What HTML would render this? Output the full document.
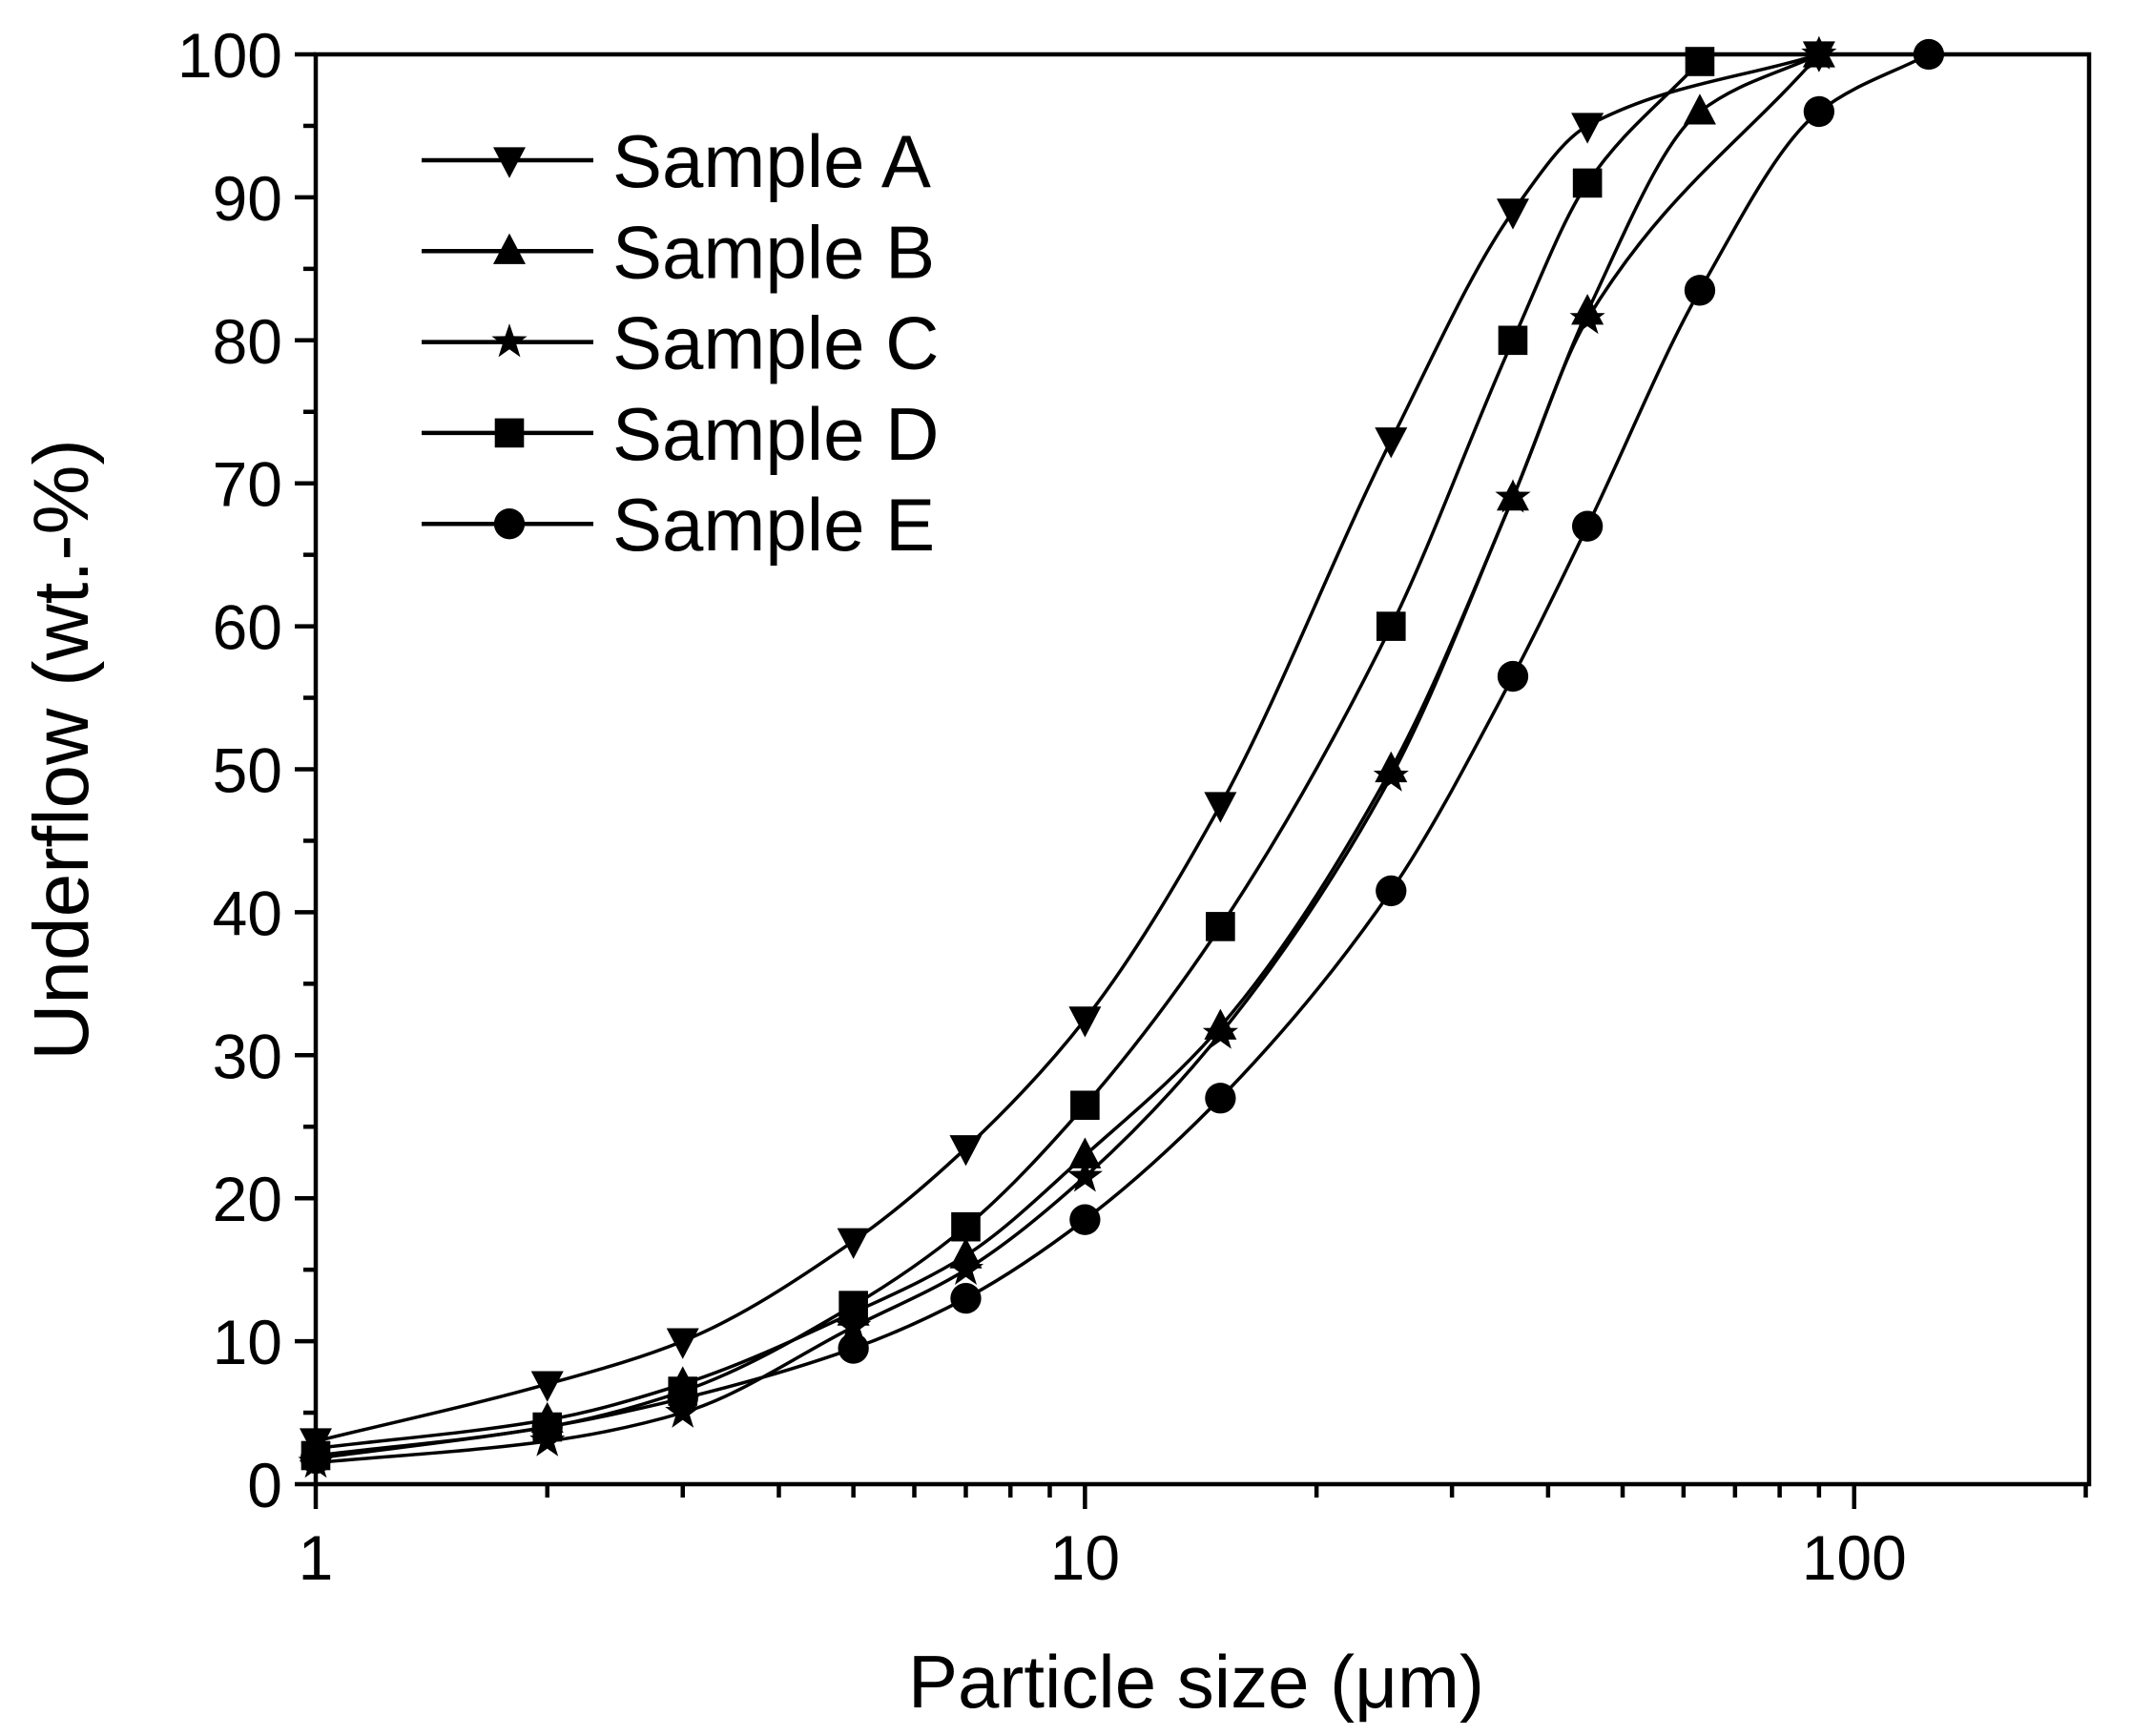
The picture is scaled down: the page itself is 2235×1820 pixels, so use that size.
<!DOCTYPE html>
<html><head><meta charset="utf-8"><style>
html,body{margin:0;padding:0;background:#fff;}
svg{display:block;font-family:"Liberation Sans",Arial,sans-serif;}
</style></head><body>
<svg id="chart" width="2235" height="1820" viewBox="0 0 2235 1820">
<g id="plot"></g>
<text x="1254" y="1790" font-size="78" text-anchor="middle">Particle size (μm)</text>
<text transform="translate(92,786) rotate(-90)" font-size="82" text-anchor="middle">Underflow (wt.-%)</text>
</svg>
<script>
const xValues = [1, 2, 3, 5, 7, 10, 15, 25, 36, 45, 63, 90, 125];
const seriesNames = ["Sample A", "Sample B", "Sample C", "Sample D", "Sample E"];
const sampleA = [3, 7, 10, 17, 23.5, 32.5, 47.5, 73, 89, 95, null, 100, null];
const sampleB = [2.5, 4.5, 7, 12, 16, 23, 32, 50, 69, 82, 96, 100, null];
const sampleC = [1.5, 3, 5, 11, 15, 21.5, 31.5, 49.5, 69, 81.5, null, 100, null];
const sampleD = [2, 4, 6.5, 12.5, 18, 26.5, 39, 60, 80, 91, 99.5, null, null];
const sampleE = [1.8, 4, 6, 9.5, 13, 18.5, 27, 41.5, 56.5, 67, 83.5, 96, 100];
const yTicks = [0, 10, 20, 30, 40, 50, 60, 70, 80, 90, 100];
const xTickLabels = [1, 10, 100];
const markers = ["tri-down", "tri-up", "star", "square", "circle"];

const NS = "http://www.w3.org/2000/svg";
const L = 331, R = 2190, T = 57, B = 1556;
const xMin = 1, xMax = 202;
function xs(v){ return L + (Math.log10(v) - Math.log10(xMin)) / (Math.log10(xMax) - Math.log10(xMin)) * (R - L); }
function ys(v){ return B - v / 100 * (B - T); }
const plot = document.getElementById('plot');
function mk(tag, attrs, parent){ const e = document.createElementNS(NS, tag); for (const k in attrs) e.setAttribute(k, attrs[k]); (parent || plot).appendChild(e); return e; }

function marker(type, x, y, g){
  const s = 17;
  let e;
  if (type === "tri-down") e = mk('polygon', {points: `${x-s},${y-s*0.8} ${x+s},${y-s*0.8} ${x},${y+s*1.1}`}, g);
  else if (type === "tri-up") e = mk('polygon', {points: `${x-s},${y+s*0.8} ${x+s},${y+s*0.8} ${x},${y-s*1.1}`}, g);
  else if (type === "square") e = mk('rect', {x: x-s*0.9, y: y-s*0.9, width: s*1.8, height: s*1.8}, g);
  else if (type === "circle") e = mk('circle', {cx: x, cy: y, r: s*0.95}, g);
  else {
    let p = [];
    for (let i = 0; i < 10; i++){ const r = i % 2 ? s*0.45 : s*1.15; const a = -Math.PI/2 + i*Math.PI/5; p.push((x + r*Math.cos(a)).toFixed(1) + ',' + (y + r*Math.sin(a)).toFixed(1)); }
    e = mk('polygon', {points: p.join(' ')}, g);
  }
  e.setAttribute('fill', '#000');
  
  
  return e;
}

// monotone cubic (Fritsch-Carlson) path in pixel space
function smoothPath(pts){
  const n = pts.length;
  const dx = [], m = [], t = [];
  for (let i = 0; i < n - 1; i++){ dx[i] = pts[i+1][0] - pts[i][0]; m[i] = (pts[i+1][1] - pts[i][1]) / dx[i]; }
  t[0] = m[0]; t[n-1] = m[n-2];
  for (let i = 1; i < n - 1; i++){
    if (m[i-1] * m[i] <= 0) t[i] = 0;
    else { const w1 = 2*dx[i] + dx[i-1], w2 = dx[i] + 2*dx[i-1]; t[i] = (w1 + w2) / (w1/m[i-1] + w2/m[i]); }
  }
  let d = `M${pts[0][0].toFixed(1)},${pts[0][1].toFixed(1)}`;
  for (let i = 0; i < n - 1; i++){
    const h = dx[i] / 3;
    d += ` C${(pts[i][0]+h).toFixed(1)},${(pts[i][1]+t[i]*h).toFixed(1)} ${(pts[i+1][0]-h).toFixed(1)},${(pts[i+1][1]-t[i+1]*h).toFixed(1)} ${pts[i+1][0].toFixed(1)},${pts[i+1][1].toFixed(1)}`;
  }
  return d;
}

const all = [sampleA, sampleB, sampleC, sampleD, sampleE];
all.forEach((vals, si) => {
  const g = mk('g', {});
  
  
  const pts = [];
  vals.forEach((v, i) => { if (v !== null) pts.push([xs(xValues[i]), ys(v)]); });
  const path = mk('path', {d: smoothPath(pts), fill: 'none', stroke: '#000', 'stroke-width': 3.5}, g);
  
  
  pts.forEach(p => marker(markers[si], p[0], p[1], g));
});

const frame = mk('rect', {x: L, y: T, width: R-L, height: B-T, fill: 'none', stroke: '#000', 'stroke-width': 4.5});



for (let v = 0; v <= 100; v += 5){
  const major = v % 10 === 0;
  const t = mk('line', {x1: L, x2: L - (major ? 22 : 13), y1: ys(v), y2: ys(v), stroke: '#000', 'stroke-width': 4.5});
  
  
}
yTicks.forEach(v => {
  const t = mk('text', {x: 296, y: ys(v) + 24, 'font-size': 66, 'text-anchor': 'end'});
  t.textContent = v;
  
  
});
for (let d = 1; d <= 100; d *= 10){
  for (let m = 1; m <= 9; m++){
    const v = d * m; if (v > xMax) break;
    const major = m === 1;
    const t = mk('line', {x1: xs(v), x2: xs(v), y1: B, y2: B + (major ? 26 : 14), stroke: '#000', 'stroke-width': 4.5});
    
    
  }
}
xTickLabels.forEach(v => {
  const t = mk('text', {x: xs(v), y: 1656, 'font-size': 66, 'text-anchor': 'middle'});
  t.textContent = v;
  
  
});

const lg = mk('g', {});


seriesNames.forEach((n, i) => {
  const y = 168 + i * 95.3;
  const e = mk('g', {}, lg);
  
  
  mk('line', {x1: 442, x2: 622, y1: y, y2: y, stroke: '#000', 'stroke-width': 4.5}, e);
  marker(markers[i], 534, y, e);
  const t = mk('text', {x: 642, y: y + 28, 'font-size': 78}, e);
  t.textContent = n;
});
</script>
</body></html>
